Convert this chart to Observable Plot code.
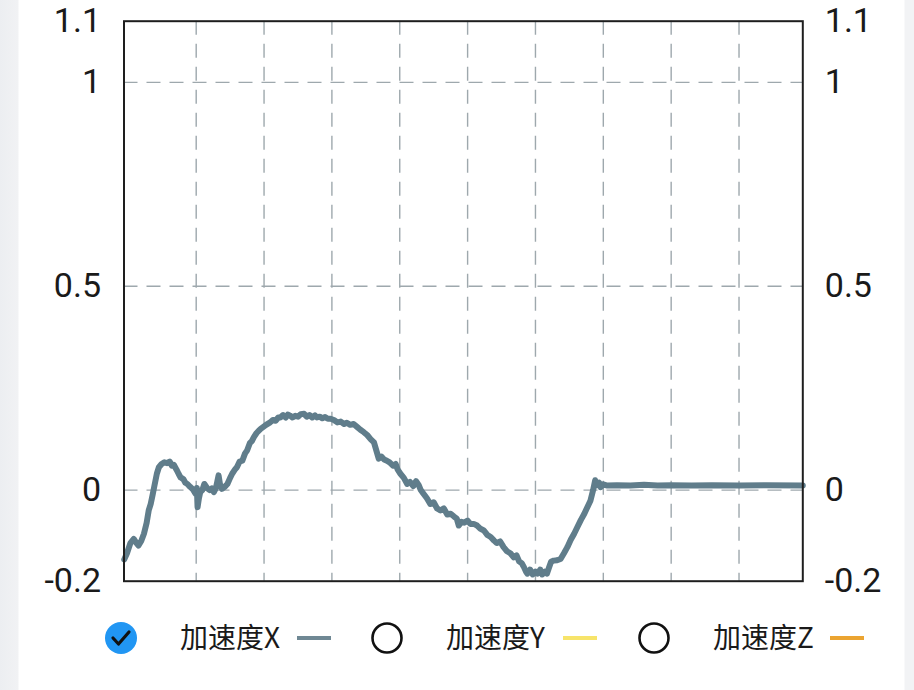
<!DOCTYPE html>
<html>
<head>
<meta charset="utf-8">
<script src="https://cdn.jsdelivr.net/npm/d3@7"></script>
<script src="https://cdn.jsdelivr.net/npm/@observablehq/plot@0.6"></script>
<style>
  html, body { margin: 0; padding: 0; }
  body {
    width: 914px; height: 690px; overflow: hidden; position: relative;
    background: linear-gradient(to right, #eceef1 0px, #f1f2f4 18px, #ffffff 19px, #ffffff 904px, #f2f3f5 905px);
    font-family: Roboto, "Noto Sans", sans-serif;
  }
  #chart { position: absolute; left: 0; top: 0; }
  #legend { position: absolute; left: 0; top: 600px; }
</style>
</head>
<body>
<div id="chart"></div>
<svg id="legend" width="914" height="90"></svg>
<script>
// ---- data ----
const timeS = [-0.06,-0.02,0.03,0.08,0.12,0.15,0.19,0.23,0.27,0.30,0.33,0.36,0.38,0.42,0.45,0.49,0.53,0.57,0.61,0.64,0.67,0.71,0.74,0.77,0.81,0.84,0.87,0.91,0.95,0.99,1.01,1.02,1.04,1.06,1.09,1.12,1.16,1.20,1.23,1.26,1.29,1.31,1.33,1.35,1.38,1.42,1.46,1.50,1.53,1.57,1.60,1.64,1.68,1.72,1.75,1.79,1.82,1.85,1.89,1.92,1.95,1.99,2.03,2.06,2.09,2.13,2.17,2.21,2.24,2.28,2.32,2.35,2.38,2.42,2.46,2.50,2.54,2.59,2.63,2.67,2.71,2.75,2.78,2.82,2.86,2.90,2.94,2.98,3.03,3.08,3.13,3.18,3.22,3.27,3.32,3.37,3.42,3.47,3.52,3.57,3.62,3.65,3.69,3.73,3.77,3.81,3.85,3.90,3.94,3.97,4.01,4.06,4.11,4.15,4.20,4.24,4.28,4.31,4.35,4.40,4.45,4.50,4.55,4.60,4.65,4.70,4.75,4.80,4.84,4.87,4.91,4.95,5.00,5.04,5.09,5.14,5.19,5.24,5.29,5.34,5.39,5.43,5.48,5.53,5.58,5.63,5.68,5.72,5.76,5.80,5.83,5.86,5.88,5.92,5.96,6.00,6.03,6.07,6.10,6.14,6.17,6.20,6.23,6.27,6.32,6.37,6.42,6.47,6.52,6.57,6.62,6.67,6.72,6.77,6.81,6.85,6.88,6.91,6.94,6.96,7.00,7.06,7.20,7.40,7.60,7.80,8.00,8.30,8.60,9.00,9.40,9.94];
const accelX = [-0.17,-0.155,-0.13,-0.12,-0.13,-0.136,-0.125,-0.107,-0.08,-0.05,-0.034,-0.01,0.007,0.04,0.056,0.064,0.068,0.066,0.07,0.06,0.062,0.05,0.04,0.031,0.027,0.018,0.015,0.008,0.002,-0.009,0.005,-0.042,-0.02,-0.005,0.0,0.015,0.005,0.0,0.004,-0.005,0.005,0.02,0.036,0.015,0.003,0.008,0.015,0.03,0.04,0.05,0.056,0.07,0.072,0.09,0.097,0.115,0.12,0.13,0.14,0.145,0.15,0.155,0.16,0.163,0.166,0.172,0.17,0.178,0.178,0.184,0.178,0.185,0.183,0.178,0.182,0.18,0.186,0.187,0.18,0.184,0.178,0.183,0.178,0.18,0.176,0.179,0.175,0.175,0.172,0.166,0.168,0.162,0.165,0.16,0.162,0.155,0.148,0.142,0.135,0.125,0.117,0.1,0.077,0.082,0.075,0.072,0.068,0.06,0.064,0.05,0.04,0.03,0.015,0.02,0.01,0.022,0.012,0.0,-0.009,-0.02,-0.034,-0.03,-0.045,-0.05,-0.045,-0.06,-0.058,-0.065,-0.07,-0.087,-0.078,-0.08,-0.075,-0.083,-0.083,-0.087,-0.095,-0.099,-0.11,-0.115,-0.124,-0.13,-0.126,-0.14,-0.15,-0.155,-0.165,-0.16,-0.175,-0.18,-0.189,-0.2,-0.205,-0.195,-0.207,-0.2,-0.205,-0.195,-0.207,-0.2,-0.205,-0.19,-0.176,-0.173,-0.172,-0.169,-0.155,-0.14,-0.122,-0.107,-0.09,-0.073,-0.058,-0.04,-0.026,0.0,0.024,0.012,0.018,0.007,0.014,0.011,0.012,0.011,0.013,0.011,0.012,0.011,0.012,0.011,0.012,0.011];
const xDomain = [-0.064, 9.94];
const xGridValues = [1,2,3,4,5,6,7,8,9];
const yDomain = [-0.2235, 1.15];
const yGridValues = [0, 0.5, 1];
const yTickValues = [-0.2235, 0, 0.5, 1, 1.15];
const yTickLabels = ["-0.2", "0", "0.5", "1", "1.1"];
const seriesNames = ["加速度X", "加速度Y", "加速度Z"];
const seriesColors = ["#6f8894", "#f7e46a", "#eba431"];
const seriesChecked = [true, false, false];

const rows = timeS.map((t, i) => ({t, ax: accelX[i]}));
const labelOf = new Map(yTickValues.map((v, i) => [v, yTickLabels[i]]));

const gridStyle = {stroke: "#9ea8ad", strokeOpacity: 1, strokeWidth: 1.4, strokeDasharray: "14,9"};

const chart = Plot.plot({
  width: 914,
  height: 600,
  marginLeft: 123.5,
  marginRight: 111.7,
  marginTop: 20.7,
  marginBottom: 19.3,
  x: {domain: xDomain, axis: null},
  y: {domain: yDomain, axis: null},
  style: {background: "transparent", fontFamily: "Roboto, 'Noto Sans', sans-serif", color: "#1a1a1a"},
  marks: [
    Plot.gridX(xGridValues, gridStyle),
    Plot.gridY(yGridValues, gridStyle),
    Plot.line(rows, {x: "t", y: "ax", stroke: "#607d8b", strokeWidth: 6, strokeLinejoin: "round", strokeLinecap: "round"}),
    Plot.frame({stroke: "#1e1e1e", strokeWidth: 2}),
    Plot.axisY(yTickValues, {anchor: "left", label: null, tickSize: 0, tickPadding: 23, fontSize: 34, fill: "#1a1a1a", tickFormat: d => labelOf.get(d)}),
    Plot.axisY(yTickValues, {anchor: "right", label: null, tickSize: 0, tickPadding: 22, fontSize: 34, fill: "#1a1a1a", tickFormat: d => labelOf.get(d)})
  ]
});
document.getElementById("chart").append(chart);

// ---- legend ----
const lg = d3.select("#legend");
const itemX = [121, 387, 654];
const cy = 38;
seriesNames.forEach((name, i) => {
  const g = lg.append("g").attr("transform", `translate(${itemX[i]},${cy})`);
  if (seriesChecked[i]) {
    g.append("circle").attr("r", 16).attr("fill", "#2196f3");
    g.append("path").attr("d", "M-8,0 L-2.5,6 L8,-6").attr("fill", "none").attr("stroke", "#111").attr("stroke-width", 3.2).attr("stroke-linecap", "round").attr("stroke-linejoin", "round");
  } else {
    g.append("circle").attr("r", 14.5).attr("fill", "none").attr("stroke", "#111").attr("stroke-width", 2.6);
  }
  g.append("text").attr("x", 59).attr("y", 0).attr("dy", "0.35em")
    .attr("font-family", "'Noto Sans CJK SC', 'Noto Sans', sans-serif").attr("font-size", 28).attr("fill", "#1a1a1a").text(name);
  g.append("line").attr("x1", 176).attr("x2", 210).attr("y1", 0).attr("y2", 0)
    .attr("stroke", seriesColors[i]).attr("stroke-width", 4);
});
</script>
</body>
</html>
